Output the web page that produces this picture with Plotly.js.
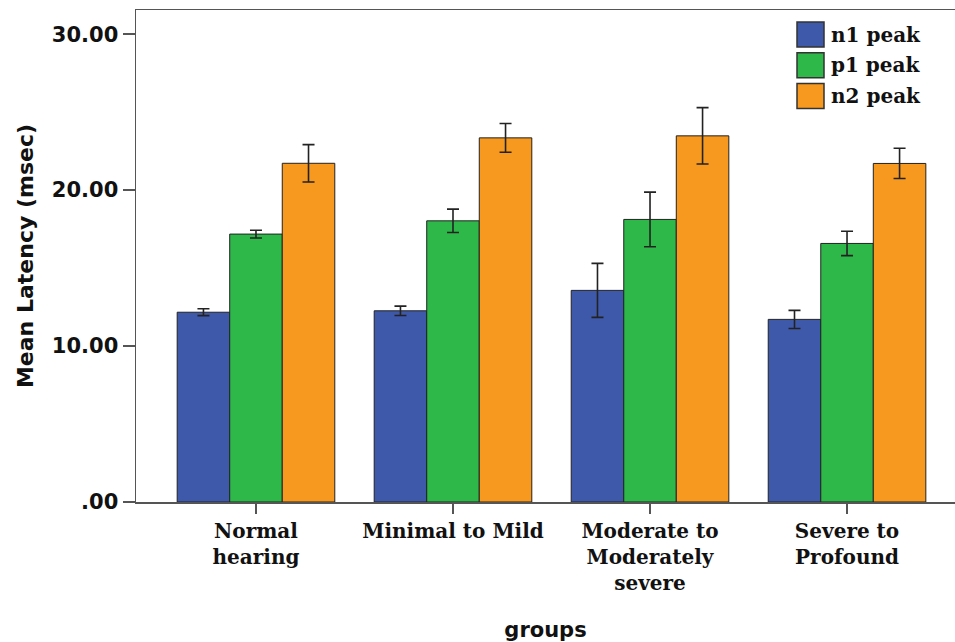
<!DOCTYPE html>
<html>
<head>
<meta charset="utf-8">
<script src="https://cdn.plot.ly/plotly-3.0.1.min.js"></script>
<style>html,body{margin:0;padding:0;background:#fff;}#chart{width:955px;height:642px;}</style>
</head>
<body>
<div id="chart"></div>
<script>
const categories = ["Normal<br>hearing", "Minimal to Mild", "Moderate to<br>Moderately<br>severe", "Severe to<br>Profound"];
const seriesNames = ["n1 peak", "p1 peak", "n2 peak"];
const n1Values = [12.17, 12.26, 13.57, 11.71];
const n1Errors = [0.22, 0.3, 1.73, 0.58];
const p1Values = [17.18, 18.03, 18.12, 16.58];
const p1Errors = [0.25, 0.75, 1.75, 0.78];
const n2Values = [21.72, 23.35, 23.48, 21.71];
const n2Errors = [1.2, 0.92, 1.81, 0.97];
const yTickVals = [0, 10, 20, 30];
const yTickText = [".00", "10.00", "20.00", "30.00"];

const colors = ["#3F59AA", "#2EB84A", "#F7991E"];
const vals = [n1Values, p1Values, n2Values];
const errs = [n1Errors, p1Errors, n2Errors];

const traces = seriesNames.map((name, i) => ({
  type: "bar",
  name: name,
  x: categories,
  y: vals[i],
  marker: {color: colors[i], line: {color: "#222", width: 1}},
  error_y: {type: "data", array: errs[i], visible: true, color: "#222", thickness: 1.6, width: 6}
}));

// custom legend (large swatches like the original), laid out in paper coordinates
const plotL = 136, plotW = 819, plotB = 502, plotH = 492;
const px = v => (v - plotL) / plotW;
const py = v => (plotB - v) / plotH;
const legendShapes = [], legendAnnotations = [];
seriesNames.forEach((name, i) => {
  const cy = 34.5 + 30.7 * i;
  legendShapes.push({
    type: "rect", xref: "paper", yref: "paper",
    x0: px(797), x1: px(824), y0: py(cy + 12.5), y1: py(cy - 12.5),
    fillcolor: colors[i], line: {color: "#333", width: 1.5}
  });
  legendAnnotations.push({
    xref: "paper", yref: "paper", x: px(829), y: py(cy), xanchor: "left", yanchor: "middle",
    text: name, showarrow: false,
    font: {family: "DejaVu Serif", size: 20, color: "#111", weight: "bold"}
  });
});

const layout = {
  width: 955, height: 642,
  margin: {l: 136, r: 0, t: 10, b: 140},
  paper_bgcolor: "#fff", plot_bgcolor: "#fff",
  barmode: "group", bargap: 0.2, bargroupgap: 0,
  showlegend: false,
  shapes: legendShapes,
  annotations: legendAnnotations,
  xaxis: {
    range: [-0.609, 3.548],
    showline: true, linecolor: "#555", linewidth: 1.5, mirror: true,
    ticks: "outside", ticklen: 10, tickcolor: "#555", tickwidth: 1.5,
    showgrid: false, zeroline: false,
    tickfont: {family: "DejaVu Serif", size: 20, color: "#111", weight: "bold"},
    title: {text: "groups", font: {family: "DejaVu Sans", size: 21, color: "#111", weight: "bold"}, standoff: 32}
  },
  yaxis: {
    range: [0, 31.55],
    tickvals: yTickVals, ticktext: yTickText,
    showline: true, linecolor: "#555", linewidth: 1.5,
    ticks: "outside", ticklen: 12, tickcolor: "#555", tickwidth: 1.5,
    showgrid: false, zeroline: false,
    tickfont: {family: "DejaVu Sans", size: 21, color: "#111", weight: "bold"},
    title: {text: "Mean Latency (msec)", font: {family: "DejaVu Sans", size: 22, color: "#111", weight: "bold"}, standoff: 12}
  }
};

Plotly.newPlot("chart", traces, layout, {displayModeBar: false, staticPlot: true});
</script>
</body>
</html>
